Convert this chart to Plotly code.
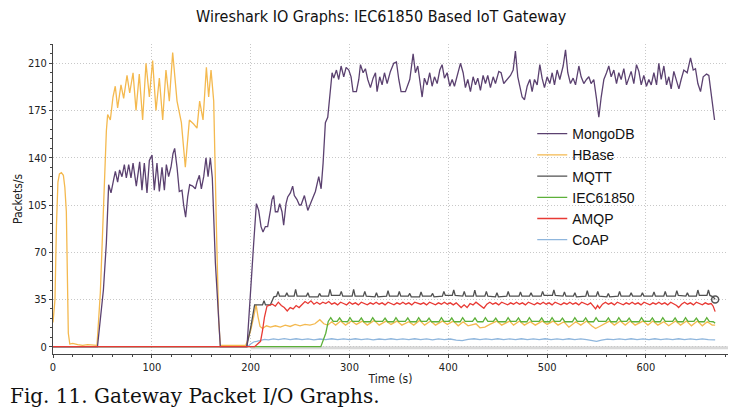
import plotly.graph_objects as go

# ---------------- data (time s, packets/s) ----------------
series_names = ["MongoDB", "HBase", "MQTT", "IEC61850", "AMQP", "CoAP"]
series_colors = ["#5b4170", "#f4b94f", "#505050", "#5cb039", "#e83a34", "#8fb6dd"]

x_ticks = [0, 100, 200, 300, 400, 500, 600]
y_ticks = [0, 35, 70, 105, 140, 175, 210]

mongo = [(0, 0), (45, 0), (51, 42), (54, 77), (56.3, 120), (58.7, 114), (61.4, 124), (63.1, 130), (65.4, 122),
         (67.4, 131), (69.8, 126), (72.2, 135), (74.2, 125), (76.6, 135), (78.9, 125), (81, 136), (84.3, 119),
         (87.7, 137), (90, 116), (92.4, 136), (95.1, 114), (97.5, 138), (100.2, 142), (102.5, 116), (105.2, 136),
         (107.6, 115), (110.3, 133), (112.7, 116), (114.7, 135), (117, 126), (119.4, 133), (121.4, 143),
         (123.1, 147), (125.5, 133), (127.8, 115), (130.5, 116), (132.2, 105), (134.2, 96), (136.3, 111),
         (138.3, 120), (141.3, 119), (144, 117), (145.7, 122), (148.1, 127), (150.1, 117), (152.5, 126),
         (154.8, 140), (156.9, 126), (159.2, 140), (161.2, 125), (164.3, 62), (169.3, 0),
         (196.3, 0), (201.4, 62), (203.1, 77), (205.8, 106), (208.1, 101), (210.5, 89), (212.5, 85), (214.9, 89),
         (217.2, 89), (220, 101), (221.6, 109), (223.3, 112), (225, 100), (227.4, 100), (229.4, 106), (231.7, 100),
         (233.4, 90), (235.8, 106), (237.5, 111), (240.2, 114), (242.5, 119), (244.2, 112), (246.9, 109),
         (249.3, 105), (251, 105), (254.4, 112), (257.8, 101), (261.1, 107), (265.5, 115), (268.9, 126),
         (271.3, 117), (273.3, 136), (275.6, 166), (278, 170), (280, 185), (282.4, 203), (284.1, 199), (286.8, 205),
         (289.1, 198), (291.5, 208), (294.2, 200), (296.6, 207), (299.3, 205), (301.6, 200), (303.6, 189), (307, 189),
         (309.4, 198), (311.1, 209), (313.8, 203), (316.1, 206), (318.5, 198), (321.2, 192), (323.9, 199),
         (326.3, 203), (327.9, 189), (330.6, 200), (333, 194), (335.4, 203), (338.1, 195), (341.4, 204),
         (344.8, 210), (347.5, 211), (349.9, 198), (352.2, 189), (356.6, 189), (361, 198), (364.4, 217),
         (366.7, 203), (369.1, 208), (371.1, 198), (373.5, 185), (375.8, 199), (378.5, 194), (381.2, 203),
         (383.6, 193), (386, 200), (388.7, 195), (391.4, 205), (393.7, 209), (396.1, 199), (398.8, 203),
         (401.5, 193), (403.9, 198), (406.2, 193), (408.9, 200), (412.3, 210), (415, 203), (417.3, 192),
         (419.7, 198), (422.4, 189), (425.1, 200), (427.5, 194), (429.8, 199), (432.5, 190), (435.2, 201),
         (437.6, 195), (439.9, 201), (442.6, 192), (445.4, 200), (447.7, 195), (451.1, 204), (453.4, 203),
         (456.1, 195), (459.5, 198), (462.9, 201), (465.6, 205), (467.9, 219), (470.3, 200), (472.3, 193),
         (474.7, 185), (477.1, 183), (479.8, 193), (482.5, 198), (484.8, 189), (487.2, 198), (489.9, 194),
         (492.6, 209), (494.9, 199), (497.3, 192), (500, 200), (502.7, 195), (505.1, 203), (507.4, 194),
         (510.1, 205), (512.8, 198), (516.2, 208), (518.6, 220), (520.9, 203), (523.6, 195), (526.3, 199),
         (528.7, 194), (532.1, 208), (534.4, 200), (537.1, 195), (539.8, 198), (542.2, 200), (544.5, 195),
         (547.2, 198), (549.9, 184), (552.3, 170), (554.7, 185), (557.4, 198), (560.1, 203), (562.4, 208),
         (564.8, 200), (567.5, 205), (570.2, 195), (572.5, 203), (574.9, 198), (577.6, 206), (580.3, 194),
         (582.7, 200), (585, 204), (587.7, 195), (590.4, 209), (592.8, 204), (595.2, 194), (597.8, 201),
         (600.5, 193), (602.9, 198), (605.3, 194), (608, 203), (610.7, 194), (613, 210), (615.4, 198),
         (618.1, 208), (620.8, 194), (623.1, 200), (625.5, 191), (628.2, 204), (630.9, 198), (633.3, 191),
         (635.6, 198), (638.3, 205), (641.7, 203), (645.1, 214), (647.8, 205), (650.1, 206), (652.5, 195),
         (655.2, 189), (657.9, 200), (661.3, 202), (663.6, 201), (665.3, 190), (667, 183), (669.4, 168)]

hbase = [(0, 18), (2, 35), (3.5, 90), (5, 122), (6.5, 128), (8.5, 129), (10.5, 127), (12, 118), (13.5, 100),
         (14.5, 55), (15.5, 10), (17, 2), (20, 2.5), (25, 1.5), (30, 1), (35, 1.5), (40, 1), (44.5, 1),
         (47.9, 40), (51.2, 110), (54, 160), (55.3, 172), (58, 168), (60.7, 185), (63, 193), (65.4, 177),
         (68.8, 194), (71.5, 184), (74.9, 201), (77.6, 188), (81, 203), (84, 175), (87.3, 202), (90.7, 168),
         (94.1, 210), (97.5, 185), (100.8, 212), (104.2, 175), (107.6, 199), (111, 168), (114.3, 205),
         (117.7, 182), (121.1, 218), (125.5, 182), (129.9, 166), (133.9, 133), (138, 168), (142.3, 165),
         (145.7, 162), (148.4, 182), (151.8, 168), (155.2, 207), (157.5, 185), (159.9, 205), (162.6, 182),
         (165.3, 90), (167.6, 20), (169.3, 1),
         (175, 1), (185, 1.5), (195, 1), (197, 5), (200, 12), (203, 22), (205.5, 31), (207.5, 22), (209.5, 15),
         (212, 13.5), (216, 15.5), (220, 14.5), (225, 15.5), (230, 14.5), (235, 16), (240, 15), (245, 16.5),
         (250, 15.5), (255, 16.5), (260, 16), (265, 17), (270, 20), (274, 17), (278, 16), (282, 18.5), (286, 16),
         (291, 19), (296, 16), (302, 19), (307, 16.5), (313, 19), (318, 16), (325, 19.5), (330, 16), (337, 19),
         (342, 16.5), (348, 19), (353, 16), (360, 18.5), (365, 16), (371, 19.5), (376, 16), (382, 19), (387, 16),
         (394, 19), (399, 16.5), (405, 19), (410, 15.5), (415, 18.5), (420, 15.5), (428, 17), (432, 14),
         (437, 14.5), (442, 16.5), (449, 19), (454, 16), (462, 19), (466, 16), (472, 19), (477, 16), (483, 18.5),
         (488, 16), (495, 19), (500, 16.5), (506, 19), (511, 16), (517, 18.5), (522, 14.5), (529, 18.5), (534, 16),
         (540, 19), (545, 15.5), (549, 13.5), (553, 15), (563, 19), (568, 16), (574, 19), (579, 16), (584, 19),
         (589, 16), (597, 19), (602, 16), (607, 19), (612, 16), (618, 18.5), (623, 15.5), (630, 19), (635, 16),
         (641, 19), (646, 15.5), (652, 19), (657, 15.5), (662, 18.5), (667, 16), (670, 16)]

mqtt = [(0, 0), (196, 0), (200, 14), (204, 31), (209, 31), (212, 31), (213.5, 34), (215, 31), (220, 31),
        (223.5, 37), (226.2, 37.5), (227.7, 41), (229.2, 37.5),
        (235.1, 37.5), (236.6, 40), (238.1, 37.5), (244, 37.5), (245.5, 42.5), (247, 37.5),
        (256.4, 37.5), (257.9, 40), (259.4, 37), (268.2, 37), (269.7, 39.5), (271.2, 37.5),
        (278.8, 37.5), (280.3, 42.5), (281.8, 38), (290.2, 38), (291.7, 41), (293.2, 37.5),
        (302.7, 37.5), (304.2, 42.5), (305.7, 37.5), (314, 37.5), (315.5, 41), (317, 37.5),
        (325.8, 37), (327.3, 40), (328.8, 37), (337.5, 37.5), (339, 41.5), (340.5, 37.5),
        (348.9, 37.5), (350.4, 41), (351.9, 37.5), (359.5, 37.5), (361, 39.5), (362.5, 37),
        (370.9, 37), (372.4, 40.5), (373.9, 37.5), (382.6, 37.5), (384.1, 39.5), (385.6, 37),
        (394, 37.5), (395.5, 41), (397, 38), (404, 38), (405.5, 42), (407, 38),
        (414.6, 37.5), (416.1, 41), (417.6, 37.5), (425.3, 37.5), (426.8, 42), (428.3, 37.5),
        (437, 37.5), (438.5, 41), (440, 37.5), (447.7, 37), (449.2, 40), (450.7, 37),
        (459.1, 37.5), (460.6, 41), (462.1, 37.5), (471.5, 37.5), (473, 40.5), (474.5, 37.5),
        (482.2, 37.5), (483.7, 40), (485.2, 37.5), (493.9, 37.5), (495.4, 41), (496.9, 38),
        (505.3, 38), (506.8, 42), (508.3, 38), (516, 37.5), (517.5, 40.5), (519, 37.5),
        (526.6, 37.5), (528.1, 40), (529.6, 37), (539.1, 37.5), (540.6, 41.5), (542.1, 37.5),
        (549.7, 37.5), (551.2, 41), (552.7, 37.5), (560.4, 37), (561.9, 39.5), (563.4, 37),
        (571.8, 37.5), (573.3, 41), (574.8, 37.5), (583.5, 37.5), (585, 40), (586.5, 37.5),
        (594.9, 37.5), (596.4, 40), (597.9, 37.5), (606.6, 37.5), (608.1, 40.5), (609.6, 37.5),
        (618, 37.5), (619.5, 41), (621, 37.5), (629.7, 37.5), (631.2, 41.5), (632.7, 38),
        (640.4, 37.5), (641.9, 40), (643.4, 37.5), (651, 37.5), (652.5, 42), (654, 38),
        (661.7, 38), (663.2, 42), (664.7, 38), (668, 37), (670, 35)]

iec61850 = [(0, 0), (271, 0), (276, 10), (278.5, 18.7), (281, 21.5), (283.5, 18.7),
            (287.5, 18.7), (290, 21.3), (292.5, 18.7), (298, 18.5), (300.5, 21.5), (303, 18.7),
            (309.5, 18.7), (312, 21.3), (314.5, 18.5), (321, 18.5), (323.5, 21.5), (326, 18.7),
            (333.5, 18.7), (336, 21.2), (338.5, 18.5), (344.5, 18.5), (347, 21.5), (349.5, 18.7),
            (356.5, 18.7), (359, 21.3), (361.5, 18.5), (367.5, 18.5), (370, 21.5), (372.5, 18.7),
            (378, 18.7), (380.5, 21.2), (383, 18.5), (390.5, 18.5), (393, 21.5), (395.5, 18.7),
            (401, 18.7), (403.5, 21.3), (406, 18.5), (412, 18.5), (414.5, 21.5), (417, 18.7),
            (424.5, 18.7), (427, 21.3), (429.5, 18.5), (435, 18.5), (437.5, 21.5), (440, 18.7),
            (445.5, 18.7), (448, 21.2), (450.5, 18.5), (458, 18.5), (460.5, 21.5), (463, 18.7),
            (468.5, 18.7), (471, 21.3), (473.5, 18.5), (479.5, 18.5), (482, 21.5), (484.5, 18.7),
            (492, 18.7), (494.5, 21.3), (497, 18.5), (502.5, 18.5), (505, 21.5), (507.5, 18.7),
            (513, 18.7), (515.5, 21.2), (518, 18.5), (525.5, 18.5), (528, 21.5), (530.5, 18.7),
            (536.5, 18.7), (539, 21.3), (541.5, 18.5), (547, 18.5), (549.5, 21.5), (552, 18.7),
            (559.5, 18.7), (562, 21.3), (564.5, 18.5), (570, 18.5), (572.5, 21.5), (575, 18.7),
            (580.5, 18.7), (583, 21.2), (585.5, 18.5), (593, 18.5), (595.5, 21.5), (598, 18.7),
            (604, 18.7), (606.5, 21.3), (609, 18.5), (614.5, 18.5), (617, 21.5), (619.5, 18.7),
            (627, 18.7), (629.5, 21.3), (632, 18.5), (637.5, 18.5), (640, 21.5), (642.5, 18.7),
            (648.5, 18.7), (651, 21.2), (653.5, 18.5), (659, 18.5), (661.5, 21.5), (664, 18.7),
            (668, 18.5), (670, 17.5)]

amqp = [(0, 0), (204, 0), (207, 2), (210, 4), (212, 12), (214, 22), (216.5, 30), (219, 30.5), (222, 31.5),
        (225, 30), (228, 33), (231, 30.5), (234, 29), (237, 26.5), (240, 29), (243, 28), (246, 30.5), (249, 29),
        (252, 31), (255, 33.5), (258, 32), (261, 34), (264, 31.5), (267, 33), (270, 31.5), (273, 33), (276, 32),
        (279, 33.5), (282, 31.5), (285, 32.5), (288, 31), (291, 33), (294, 32), (297, 31), (300, 33),
        (303, 31.5), (306, 32.5), (309, 31), (312, 33), (315, 32), (318, 31), (321, 32.5), (324, 31.5), (327, 33),
        (330, 31.5), (333, 32.5), (336, 31), (339, 33), (342, 32), (345, 31), (348, 32.5), (351, 31.5), (354, 33),
        (357, 31.5), (360, 32.5), (363, 31), (366, 33), (369, 32), (372, 31.5), (375, 32.5), (378, 31), (381, 33),
        (384, 32), (387, 31), (390, 32.5), (393, 31.5), (396, 33), (399, 31.5), (402, 32.5), (405, 31),
        (408, 32.5), (411, 30.5), (413, 29), (416, 31), (419, 29), (422, 32), (425, 31), (428, 33), (431, 31.5),
        (434, 30), (436, 28.5), (439, 31.5), (442, 33), (445, 31.5), (448, 32.5), (451, 31), (454, 33), (457, 32),
        (460, 31), (463, 32.5), (466, 31.5), (469, 33), (472, 31.5), (475, 32.5), (478, 31), (481, 33), (484, 32),
        (487, 31), (490, 32.5), (493, 31.5), (496, 33), (499, 31.5), (502, 32.5), (505, 31), (508, 33), (511, 32),
        (514, 31), (517, 32.5), (520, 31.5), (523, 33), (526, 31.5), (529, 32.5), (532, 31), (535, 33), (538, 32),
        (541, 31), (544, 32.5), (547, 29.5), (549, 28), (551, 30.5), (553, 28.5), (556, 31.5), (559, 33),
        (562, 31.5), (565, 32.5), (568, 31), (571, 33), (574, 32), (577, 31), (580, 32.5), (583, 31.5), (586, 33),
        (589, 31.5), (592, 32.5), (595, 31), (598, 33), (601, 32), (604, 31), (607, 32.5), (610, 31.5), (613, 33),
        (616, 31.5), (619, 32.5), (622, 31), (625, 33), (628, 32), (631, 30.5), (633, 29), (636, 31.5), (639, 33),
        (642, 31.5), (645, 32.5), (648, 31), (651, 33), (654, 32), (657, 31), (660, 32.5), (663, 31.5), (666, 32),
        (668, 30), (670, 26)]

coap = [(0, 0), (197, 0), (200, 2), (203, 3.5), (206, 4), (210, 4.5), (214, 5.5), (218, 5), (223, 5.8),
        (228, 5.2), (234, 6), (240, 5.3), (246, 5.9), (252, 5.2), (258, 5.8), (264, 5.1), (270, 5.7), (276, 5.2),
        (282, 5.9), (288, 5.3), (294, 5.8), (300, 5.2), (306, 5.9), (312, 5.3), (318, 5.8), (324, 5.1), (330, 5.7),
        (336, 5.3), (342, 5.9), (348, 5.2), (354, 5.8), (360, 5.3), (366, 5.9), (372, 5.2), (378, 5.8), (384, 5.1),
        (390, 5.8), (396, 5.3), (402, 5.7), (408, 4.9), (414, 4.5), (420, 5.4), (426, 5.9), (432, 5.2), (438, 5.8),
        (444, 5.3), (450, 5.9), (456, 5.2), (462, 5.8), (468, 5.3), (474, 5.9), (480, 5.2), (486, 5.8), (492, 5.3),
        (498, 5.9), (504, 5.2), (510, 5.8), (516, 5.3), (522, 5.9), (528, 5.2), (534, 5.8), (540, 5.2), (546, 4.6),
        (550, 4.0), (555, 4.8), (561, 5.6), (567, 5.2), (573, 5.8), (579, 5.3), (585, 5.9), (591, 5.2), (597, 5.8),
        (603, 5.3), (609, 5.9), (615, 5.2), (621, 5.8), (627, 5.3), (633, 5.9), (639, 5.2), (645, 5.8), (651, 5.3),
        (657, 5.8), (663, 5.2), (668, 5.3), (670, 5.0)]

all_series = [mongo, hbase, mqtt, iec61850, amqp, coap]
draw_order = [5, 1, 3, 2, 0, 4]   # CoAP first ... AMQP on top

# ---------------- figure ----------------
narrow = "DejaVu Sans Condensed, Liberation Sans Narrow, sans-serif"
fig = go.Figure()

for i in draw_order:
    data = all_series[i]
    fig.add_trace(go.Scatter(
        x=[p[0] for p in data], y=[p[1] for p in data], name=series_names[i], mode="lines",
        legendrank=i + 1, line=dict(color=series_colors[i], width=1.3), hoverinfo="skip"))

# end marker on MQTT
fig.add_trace(go.Scatter(x=[mqtt[-1][0]], y=[mqtt[-1][1]], mode="markers", showlegend=False,
                         marker=dict(symbol="circle-open", size=7, color="#555555", line=dict(width=1.5)),
                         hoverinfo="skip"))

x_max = 683
fig.add_shape(type="line", xref="x", yref="y", x0=200, x1=x_max, y0=-0.8, y1=-0.8,
              line=dict(color="#d8d8d8", width=3), layer="below")

axis_common = dict(showline=True, linecolor="#444444", linewidth=1, ticks="outside", ticklen=3,
                   tickcolor="#444444", showgrid=True, gridcolor="#c8c8c8", griddash="1px,2px", gridwidth=1,
                   zeroline=False, automargin=False,
                   tickfont=dict(family=narrow, size=11, color="#222222"))

fig.update_layout(
    width=748, height=418,
    margin=dict(l=45, r=28, t=36, b=72, autoexpand=False),
    paper_bgcolor="white", plot_bgcolor="white",
    title=dict(text="Wireshark IO Graphs: IEC61850 Based IoT Gateway", x=0.499, xanchor="center",
               y=0.979, yanchor="middle", font=dict(family=narrow, size=16, color="#111111")),
    xaxis=dict(range=[0, x_max], tickvals=x_ticks, ticktext=[str(v) for v in x_ticks],
               minor=dict(dtick=20, ticks="outside", ticklen=2, tickcolor="#444444", showgrid=False),
               title=dict(text="Time (s)", font=dict(family=narrow, size=12, color="#222222"), standoff=1),
               **axis_common),
    yaxis=dict(range=[-5.4, 224.3], tickvals=y_ticks, ticktext=[str(v) for v in y_ticks],
               minor=dict(dtick=7, ticks="outside", ticklen=2, tickcolor="#444444", showgrid=False),
               title=dict(text="Packets/s", font=dict(family=narrow, size=12, color="#222222"), standoff=2),
               **axis_common),
    legend=dict(x=0.71, y=0.761, xanchor="left", yanchor="top", bgcolor="rgba(0,0,0,0)",
                font=dict(family="Liberation Sans, Arial, sans-serif", size=14, color="#111111"),
                tracegroupgap=0, itemwidth=30),
    showlegend=True,
)

fig.add_annotation(text="Fig. 11. Gateway Packet I/O Graphs.", xref="paper", yref="paper",
                   x=-0.066, y=-0.137, xanchor="left", yanchor="middle", showarrow=False,
                   font=dict(family="DejaVu Serif, Liberation Serif, serif", size=20, color="#111111"))

fig.write_html("out.html")
